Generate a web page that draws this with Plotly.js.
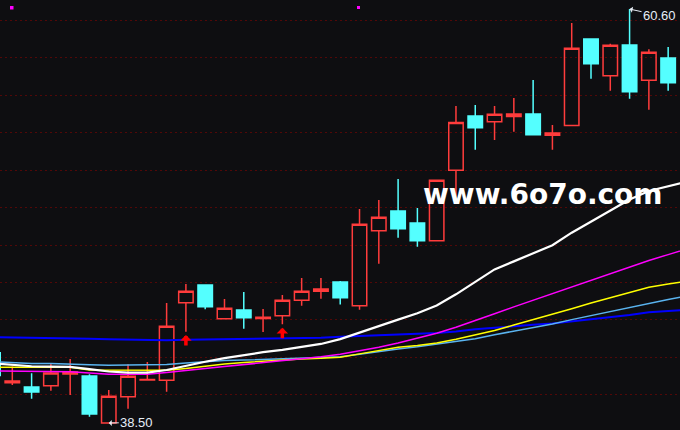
<!DOCTYPE html>
<html>
<head>
<meta charset="utf-8">
<script src="https://cdn.plot.ly/plotly-3.0.1.min.js"></script>
<style>
  html, body { margin: 0; padding: 0; background: #0e0e11; }
  #chart { width: 680px; height: 430px; }
</style>
</head>
<body>
<div id="chart"></div>
<script>
// ---- data ----
const days = [-1, 0, 1, 2, 3, 4, 5, 6, 7, 8, 9, 10, 11, 12, 13, 14, 15, 16, 17, 18, 19, 20, 21, 22, 23, 24, 25, 26, 27, 28, 29, 30, 31, 32, 33, 34];
const open  = [42.25, 40.65, 40.42, 40.49, 41.12, 41.01, 38.50, 39.90, 40.80, 40.78, 44.92, 45.87, 44.07, 44.53, 44.08, 44.23, 45.05, 45.53, 46.03, 44.76, 48.77, 49.82, 49.18, 48.23, 51.99, 54.89, 54.59, 54.87, 55.00, 53.86, 54.39, 59.00, 57.04, 58.68, 56.80, 57.99];
const high  = [42.30, 41.51, 41.15, 41.65, 41.92, 41.10, 40.26, 41.63, 41.76, 44.91, 45.92, 45.90, 45.12, 45.49, 44.59, 45.33, 46.24, 46.24, 46.08, 49.93, 50.41, 51.53, 49.98, 51.50, 55.42, 55.48, 55.42, 55.85, 56.81, 54.41, 59.86, 59.00, 58.75, 60.60, 58.45, 58.57];
const low   = [41.00, 40.53, 39.80, 40.22, 39.99, 38.84, 38.50, 39.26, 40.78, 40.17, 43.37, 44.57, 44.05, 43.53, 43.36, 43.77, 44.76, 45.14, 44.82, 44.55, 47.00, 48.39, 47.91, 48.20, 50.41, 53.09, 53.61, 54.05, 53.89, 53.09, 54.39, 56.88, 56.24, 55.81, 55.23, 56.24];
const close = [41.03, 40.74, 40.15, 41.17, 41.22, 38.98, 39.93, 40.99, 40.82, 43.66, 45.53, 44.71, 44.62, 44.12, 44.14, 45.05, 45.53, 45.65, 45.19, 49.11, 49.48, 48.87, 48.23, 51.46, 54.55, 54.27, 54.98, 55.00, 53.89, 53.98, 58.51, 57.68, 58.67, 56.19, 58.29, 56.67];

// moving averages (one more point so the lines reach the right edge)
const maDays  = [-1, 0, 1, 2, 3, 4, 5, 6, 7, 8, 9, 10, 11, 12, 13, 14, 15, 16, 17, 18, 19, 20, 21, 22, 23, 24, 25, 26, 27, 28, 29, 30, 31, 32, 33, 34, 35];
const maWhite   = [41.68, 41.59, 41.53, 41.51, 41.50, 41.38, 41.25, 41.19, 41.19, 41.33, 41.56, 41.77, 41.96, 42.13, 42.28, 42.40, 42.54, 42.72, 42.98, 43.34, 43.68, 44.02, 44.36, 44.77, 45.37, 46.02, 46.70, 47.13, 47.58, 47.99, 48.66, 49.24, 49.82, 50.43, 50.89, 51.14, 51.39];
const maMagenta = [41.28, 41.27, 41.26, 41.25, 41.24, 41.17, 41.10, 41.10, 41.10, 41.19, 41.31, 41.41, 41.51, 41.61, 41.72, 41.82, 41.93, 42.04, 42.17, 42.35, 42.55, 42.77, 43.03, 43.29, 43.61, 43.95, 44.33, 44.70, 45.06, 45.41, 45.75, 46.11, 46.47, 46.83, 47.18, 47.49, 47.81];
const maYellow  = [41.47, 41.47, 41.47, 41.47, 41.47, 41.33, 41.33, 41.33, 41.30, 41.31, 41.41, 41.53, 41.65, 41.73, 41.80, 41.86, 41.92, 41.96, 42.01, 42.19, 42.38, 42.54, 42.64, 42.77, 42.97, 43.20, 43.44, 43.73, 44.01, 44.30, 44.60, 44.91, 45.19, 45.47, 45.75, 45.92, 46.08];
const maSky     = [41.77, 41.71, 41.68, 41.67, 41.66, 41.61, 41.58, 41.58, 41.58, 41.62, 41.70, 41.78, 41.83, 41.86, 41.89, 41.94, 41.96, 41.99, 42.04, 42.17, 42.32, 42.45, 42.57, 42.71, 42.87, 43.00, 43.21, 43.40, 43.58, 43.79, 44.02, 44.24, 44.45, 44.68, 44.87, 45.09, 45.29];
const maBlue    = [43.08, 43.07, 43.04, 43.02, 43.01, 43.00, 42.97, 42.94, 42.92, 42.92, 42.94, 42.96, 42.97, 42.97, 42.98, 43.01, 43.02, 43.05, 43.10, 43.14, 43.17, 43.20, 43.25, 43.31, 43.38, 43.51, 43.58, 43.67, 43.74, 43.81, 43.92, 44.03, 44.13, 44.27, 44.41, 44.49, 44.55];

// buy signals (red arrows) and the marked extremes
const signalDays   = [9, 14];
const signalPrices = [43.20, 43.59];
const maxDay = 32, maxPrice = 60.60, maxLabel = '60.60';
const minDay = 5,  minPrice = 38.50, minLabel = '38.50';
const watermark = 'www.6o7o.com';

// ---- chart ----
const BG = '#0e0e11';
const UP = '#ff3c3c';
const DOWN = '#54ffff';

const traces = [
  {
    type: 'candlestick',
    x: days, open: open, high: high, low: low, close: close,
    increasing: { line: { color: UP, width: 1.5 }, fillcolor: 'rgba(0,0,0,0)' },
    decreasing: { line: { color: DOWN, width: 1.5 }, fillcolor: DOWN },
    whiskerwidth: 0,
    hoverinfo: 'skip',
    showlegend: false
  }
];
const maDefs = [
  [maBlue, '#0000ff', 2],
  [maSky, '#5ab4f0', 1.5],
  [maYellow, '#ffff00', 1.5],
  [maMagenta, '#ff00ff', 1.5],
  [maWhite, '#ffffff', 2.2]
];
maDefs.forEach(function (d) {
  traces.push({
    type: 'scatter', mode: 'lines', x: maDays, y: d[0],
    line: { color: d[1], width: d[2] },
    hoverinfo: 'skip', showlegend: false
  });
});

const annotations = [];
signalDays.forEach(function (d, k) {
  annotations.push({
    x: d, y: signalPrices[k], xref: 'x', yref: 'y',
    text: '', showarrow: true, ax: 0, ay: 12, standoff: 0,
    arrowcolor: '#ff0000', arrowwidth: 3.5, arrowhead: 1, arrowsize: 0.55
  });
});
annotations.push({
  x: maxDay, y: maxPrice, xref: 'x', yref: 'y', text: maxLabel,
  showarrow: true, ax: 30, ay: 6.5, arrowcolor: '#e8eef6', arrowwidth: 1,
  arrowhead: 1, arrowsize: 1, standoff: 0,
  font: { family: 'Liberation Sans, Arial, sans-serif', size: 13, color: '#e6eef8' }
});
annotations.push({
  x: minDay, y: minPrice, xref: 'x', yref: 'y', text: minLabel,
  showarrow: true, ax: 28, ay: -0.5, arrowcolor: '#e8eef6', arrowwidth: 1,
  arrowhead: 1, arrowsize: 1, standoff: 0,
  font: { family: 'Liberation Sans, Arial, sans-serif', size: 13, color: '#e6eef8' }
});
annotations.push({
  x: 542.5 / 680, y: 1 - 195 / 430, xref: 'paper', yref: 'paper',
  xanchor: 'center', yanchor: 'middle', showarrow: false,
  text: '<b>' + watermark + '</b>',
  font: { family: 'DejaVu Sans, sans-serif', size: 28, color: '#ffffff' }
});

const layout = {
  width: 680, height: 430,
  margin: { l: 0, r: 0, t: 0, b: 0, pad: 0 },
  paper_bgcolor: BG, plot_bgcolor: BG,
  showlegend: false, hovermode: false, dragmode: false,
  boxgap: 0.25, boxgroupgap: 0,
  xaxis: {
    range: [-0.638, 34.614], showgrid: false, zeroline: false,
    showticklabels: false, ticks: '', showline: false,
    rangeslider: { visible: false }, fixedrange: true
  },
  yaxis: {
    range: [38.126, 61.084], tick0: 40, dtick: 2,
    showgrid: true, gridcolor: '#520808', gridwidth: 1, griddash: '2px,3px',
    zeroline: false, showticklabels: false, ticks: '', showline: false, fixedrange: true
  },
  shapes: [
    { type: 'rect', xref: 'paper', yref: 'paper', x0: 10 / 680, x1: 13.5 / 680, y0: 1 - 9.5 / 430, y1: 1 - 6 / 430, fillcolor: '#ff00ff', line: { width: 0 } },
    { type: 'rect', xref: 'paper', yref: 'paper', x0: 357 / 680, x1: 360 / 680, y0: 1 - 9 / 430, y1: 1 - 6 / 430, fillcolor: '#ff00ff', line: { width: 0 } }
  ],
  annotations: annotations
};

Plotly.newPlot('chart', traces, layout, { staticPlot: true, displayModeBar: false });
</script>
</body>
</html>
